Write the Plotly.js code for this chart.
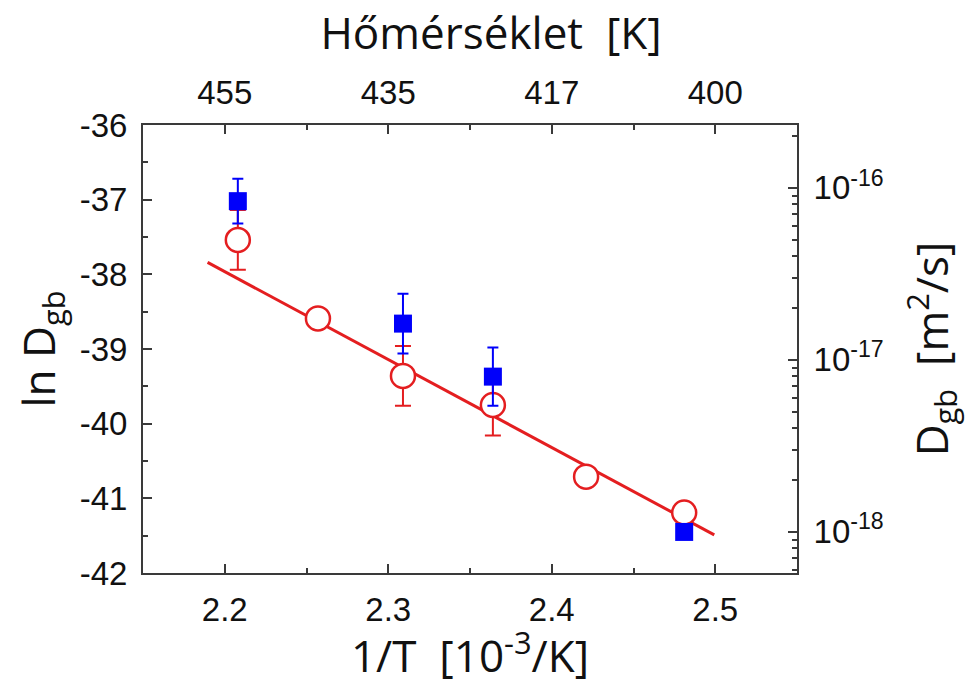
<!DOCTYPE html>
<html><head><meta charset="utf-8">
<script src="https://cdn.plot.ly/plotly-3.0.1.min.js"></script>
<style>html,body{margin:0;padding:0;background:#fff}#chart{width:973px;height:685px}</style>
</head><body><div id="chart"></div>
<script>
// Red open circles (ln D_gb vs 1000/T)
const redX = [2.208, 2.257, 2.309, 2.364, 2.421, 2.481];
const redY = [-37.54, -38.59, -39.36, -39.75, -40.71, -41.19];
const redErr = [0.40, 0, 0.40, 0.41, 0, 0];
// Blue filled squares
const blueX = [2.208, 2.309, 2.364, 2.481];
const blueY = [-37.02, -38.66, -39.37, -41.45];
const blueErr = [0.30, 0.40, 0.39, 0];
// Arrhenius fit line end points
const fitX = [2.1895, 2.4994];
const fitY = [-37.84, -41.49];
// Axis ticks
const bottomTicks = [2.2, 2.3, 2.4, 2.5];
const bottomTickText = ['2.2', '2.3', '2.4', '2.5'];
const bottomMinor = [2.15, 2.25, 2.35, 2.45, 2.55];
const topTickText = ['455', '435', '417', '400'];
const leftTicks = [-42, -41, -40, -39, -38, -37, -36];
const leftTickText = ['-42', '-41', '-40', '-39', '-38', '-37', '-36'];
const leftMinor = [-41.5, -40.5, -39.5, -38.5, -37.5, -36.5];
const rightDecades = [-16, -17, -18];
const rightTickText = ['10<sup>-16</sup>', '10<sup>-17</sup>', '10<sup>-18</sup>'];

const RED = 'rgb(228,30,32)';
const BLUE = 'rgb(0,0,250)';
const AX = '#3a3a3a';

// right axis: D_gb on a log scale, placed in ln units
const rightMajor = rightDecades.map(e => e * Math.LN10);
const rightMinor = [];
[-16, -17, -18, -19].forEach(e => { for (let k = 2; k <= 9; k++) { const v = Math.log(k) + e * Math.LN10; if (v > -42 && v < -36) rightMinor.push(v); } });

function tickFont() { return {family: 'Liberation Sans, Arial, sans-serif', size: 33, color: '#111'}; }
function titleFont() { return {family: 'Open Sans, sans-serif', size: 44, color: '#111'}; }

const traces = [
  {x: fitX, y: fitY, mode: 'lines', line: {color: RED, width: 3}, showlegend: false, hoverinfo: 'skip'},
  {x: redX, y: redY, mode: 'markers', showlegend: false,
   marker: {symbol: 'circle', size: 24, color: 'white', line: {color: RED, width: 2.5}},
   error_y: {type: 'data', array: redErr, color: RED, thickness: 2, width: 8}},
  {x: blueX, y: blueY, mode: 'markers', showlegend: false,
   marker: {symbol: 'square', size: 18, color: BLUE, line: {width: 0}},
   error_y: {type: 'data', array: blueErr, color: BLUE, thickness: 2, width: 5.5}},
  // empty trace so the top (temperature) and right (D_gb) axes get drawn
  {x: [null], y: [null], xaxis: 'x2', yaxis: 'y2', mode: 'markers', showlegend: false, hoverinfo: 'skip'}
];

function baseAx(extra) {
  return Object.assign({showgrid: false, zeroline: false, showline: true, linecolor: AX, linewidth: 2,
    ticks: 'inside', ticklen: 9, tickwidth: 2, tickcolor: AX, tickfont: tickFont()}, extra);
}

const layout = {
  width: 973, height: 685,
  margin: {l: 143, r: 176, t: 125, b: 112},
  paper_bgcolor: 'white', plot_bgcolor: 'white',
  title: {text: 'Hőmérséklet\u00A0\u00A0[K]', font: titleFont(), x: 491/973, xanchor: 'center', xref: 'container', y: 1 - 34/685, yanchor: 'middle', yref: 'container'},
  xaxis: baseAx({range: [2.15, 2.55], tickmode: 'array', tickvals: bottomTicks, ticktext: bottomTickText, ticklabelstandoff: 6,
    minor: {tickmode: 'array', tickvals: bottomMinor, ticks: 'inside', ticklen: 5, tickwidth: 2, tickcolor: AX},
    title: {text: '1/T\u00A0\u00A0[10<sup>-3</sup>/K]', font: titleFont(), standoff: 2}}),
  xaxis2: baseAx({range: [2.15, 2.55], overlaying: 'x', anchor: 'y2', side: 'top', tickmode: 'array', tickvals: bottomTicks, ticktext: topTickText, ticklabelstandoff: 6,
    minor: {tickmode: 'array', tickvals: bottomMinor, ticks: 'inside', ticklen: 5, tickwidth: 2, tickcolor: AX}}),
  yaxis: baseAx({range: [-42, -36], tickmode: 'array', tickvals: leftTicks, ticktext: leftTickText, ticklabelstandoff: 7,
    minor: {tickmode: 'array', tickvals: leftMinor, ticks: 'inside', ticklen: 5, tickwidth: 2, tickcolor: AX},
    title: {text: 'ln D<sub>gb</sub>', font: titleFont(), standoff: 10}}),
  yaxis2: baseAx({range: [-42, -36], overlaying: 'y', anchor: 'x2', side: 'right', tickmode: 'array', tickvals: rightMajor, ticktext: rightTickText, ticklabelstandoff: 8,
    minor: {tickmode: 'array', tickvals: rightMinor, ticks: 'inside', ticklen: 5, tickwidth: 2, tickcolor: AX},
    title: {text: 'D<sub>gb</sub>\u00A0\u00A0[m<sup>2</sup>/s]', font: titleFont(), standoff: 34}})
};

Plotly.newPlot('chart', traces, layout, {displayModeBar: false, staticPlot: true});
</script>
</body></html>
